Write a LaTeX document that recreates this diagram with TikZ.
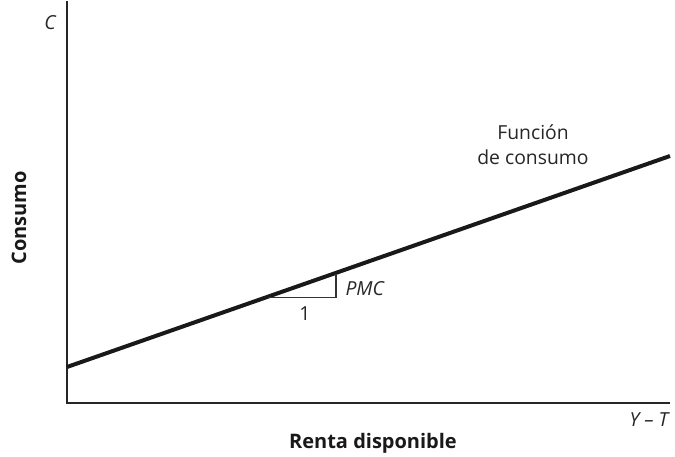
\documentclass[tikz,border=0pt]{standalone}
\usepackage{fontspec}
\setmainfont{Open Sans}
\setsansfont{Open Sans}

\tikzset{every picture/.style={line width=0.75pt}}

\begin{document}
\begin{tikzpicture}[x=0.75pt,y=0.75pt,yscale=-1,xscale=1,
  axis/.style={color=black!85, line width=1pt},
  curve/.style={color=black!90, line width=3pt},
  tri/.style={color=black!80, line width=0.9pt},
  lbl/.style={inner sep=0.75pt, text=black!85, font=\fontsize{14.5}{19}\selectfont},
  ttl/.style={inner sep=0.75pt, text=black!90, font=\fontsize{15}{19}\selectfont\bfseries}]
\useasboundingbox (0,0) rectangle (675,457);

% Axes
\coordinate (ytop) at (67,1);
\coordinate (origin) at (67,403);
\coordinate (xend) at (670,403);
\draw [axis] (ytop) -- (origin) -- (xend) ;

% Consumption function
\coordinate (cstart) at (67,367);
\coordinate (cend) at (670,156);
\draw [curve] (cstart) -- (cend) ;

% Slope triangle
\coordinate (ta) at (268,297.5);
\coordinate (tb) at (336,297.5);
\coordinate (tc) at (336,274);
\draw [tri] (ta) -- (tb) -- (tc) ;

% Text Node
\node (clbl) at (50,23) [lbl] {\itshape C};
% Text Node
\node (conslbl) at (19,218) [ttl, rotate=90] {Consumo};
% Text Node
\node (rentalbl) at (373,443) [ttl] {Renta disponible};
% Text Node
\node (ytlbl) at (649,420) [lbl] {\itshape Y -- T};
% Text Node
\node (pmclbl) at (344,289) [lbl, anchor=west] {\itshape PMC};
% Text Node
\node (onelbl) at (305,314) [lbl] {1};
% Text Node
\node (funclbl) at (533,145) [lbl, align=center] {Función\\de consumo};
\end{tikzpicture}
\end{document}
